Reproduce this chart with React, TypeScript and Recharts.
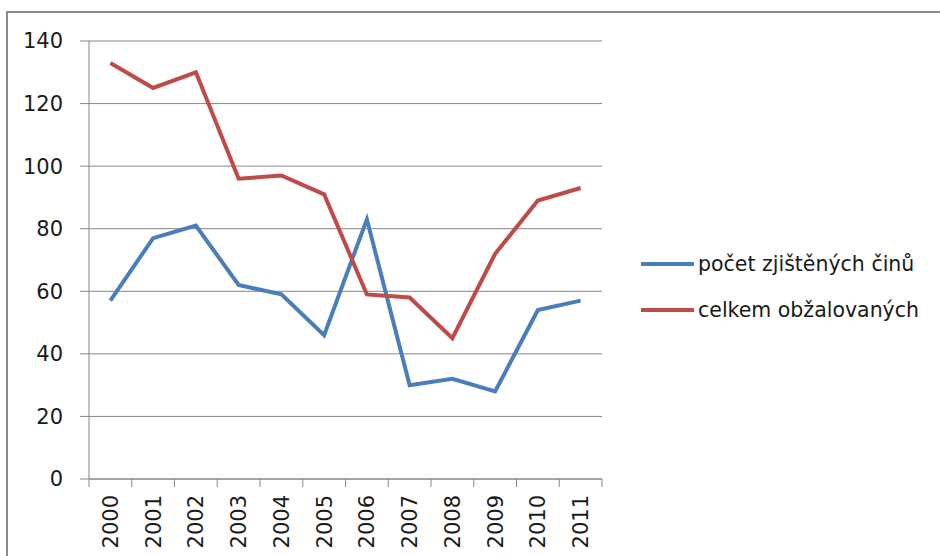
import { LineChart, Line, XAxis, YAxis, CartesianGrid } from 'recharts'

const years = ['2000', '2001', '2002', '2003', '2004', '2005', '2006', '2007', '2008', '2009', '2010', '2011']
const zjistene = [57, 77, 81, 62, 59, 46, 83, 30, 32, 28, 54, 57]
const obzalovani = [133, 125, 130, 96, 97, 91, 59, 58, 45, 72, 89, 93]
const yTicks = [0, 20, 40, 60, 80, 100, 120, 140]

const BLUE = '#4a7ebb'
const RED = '#be4b48'
const GRID = '#868686'
const FONT = '"DejaVu Sans", sans-serif'

const PLOT_LEFT = 89
const PLOT_RIGHT = 602
const BAND = (PLOT_RIGHT - PLOT_LEFT) / years.length

const data = years.map((year, i) => ({ year, zjistene: zjistene[i], obzalovani: obzalovani[i] }))

function YearTick(props: any) {
  const { x, y, index } = props
  const left = x - BAND / 2
  return (
    <g>
      <line x1={left} y1={y - 8} x2={left} y2={y} stroke={GRID} />
      {index === years.length - 1 && (
        <line x1={x + BAND / 2} y1={y - 8} x2={x + BAND / 2} y2={y} stroke={GRID} />
      )}
      <text
        transform={`translate(${x},${y + 8}) rotate(-90)`}
        textAnchor="end"
        dy="0.36em"
        fill="#1a1a1a"
        fontSize={21}
        fontFamily={FONT}
      >
        {props.payload.value}
      </text>
    </g>
  )
}

function ChartLegend() {
  const items = [
    { label: 'počet zjištěných činů', color: BLUE },
    { label: 'celkem obžalovaných', color: RED },
  ]
  return (
    <div style={{ position: 'absolute', left: 641, top: 241, fontFamily: FONT, fontSize: 20.5, color: '#1a1a1a' }}>
      {items.map((it) => (
        <div key={it.label} style={{ display: 'flex', alignItems: 'center', height: 46, whiteSpace: 'nowrap' }}>
          <span style={{ display: 'inline-block', width: 53, height: 4, background: it.color, marginRight: 4 }} />
          <span>{it.label}</span>
        </div>
      ))}
    </div>
  )
}

export default function App() {
  return (
    <div style={{ position: 'absolute', left: 0, top: 0, width: 940, height: 556, background: '#fff', overflow: 'hidden' }}>
      <div
        style={{
          position: 'absolute',
          left: 6,
          top: 11,
          width: 1000,
          height: 700,
          border: '2px solid #8a8a8a',
        }}
      />
      <LineChart
        width={940}
        height={556}
        data={data}
        margin={{ top: 41, right: 940 - PLOT_RIGHT, left: 0, bottom: 0 }}
        style={{ position: 'absolute', left: 0, top: 0 }}
      >
        <CartesianGrid horizontal vertical={false} stroke={GRID} />
        <XAxis
          dataKey="year"
          scale="band"
          height={77}
          axisLine={{ stroke: GRID }}
          tickLine={false}
          tick={<YearTick />}
          interval={0}
        />
        <YAxis
          domain={[0, 140]}
          ticks={yTicks}
          width={PLOT_LEFT}
          axisLine={{ stroke: GRID }}
          tickLine={{ stroke: GRID }}
          tickSize={9}
          tickMargin={17}
          tick={{ fill: '#1a1a1a', fontSize: 21, fontFamily: FONT }}
        />
        <Line dataKey="zjistene" stroke={BLUE} strokeWidth={4} dot={false} isAnimationActive={false} />
        <Line dataKey="obzalovani" stroke={RED} strokeWidth={4} dot={false} isAnimationActive={false} />
      </LineChart>
      <ChartLegend />
    </div>
  )
}
